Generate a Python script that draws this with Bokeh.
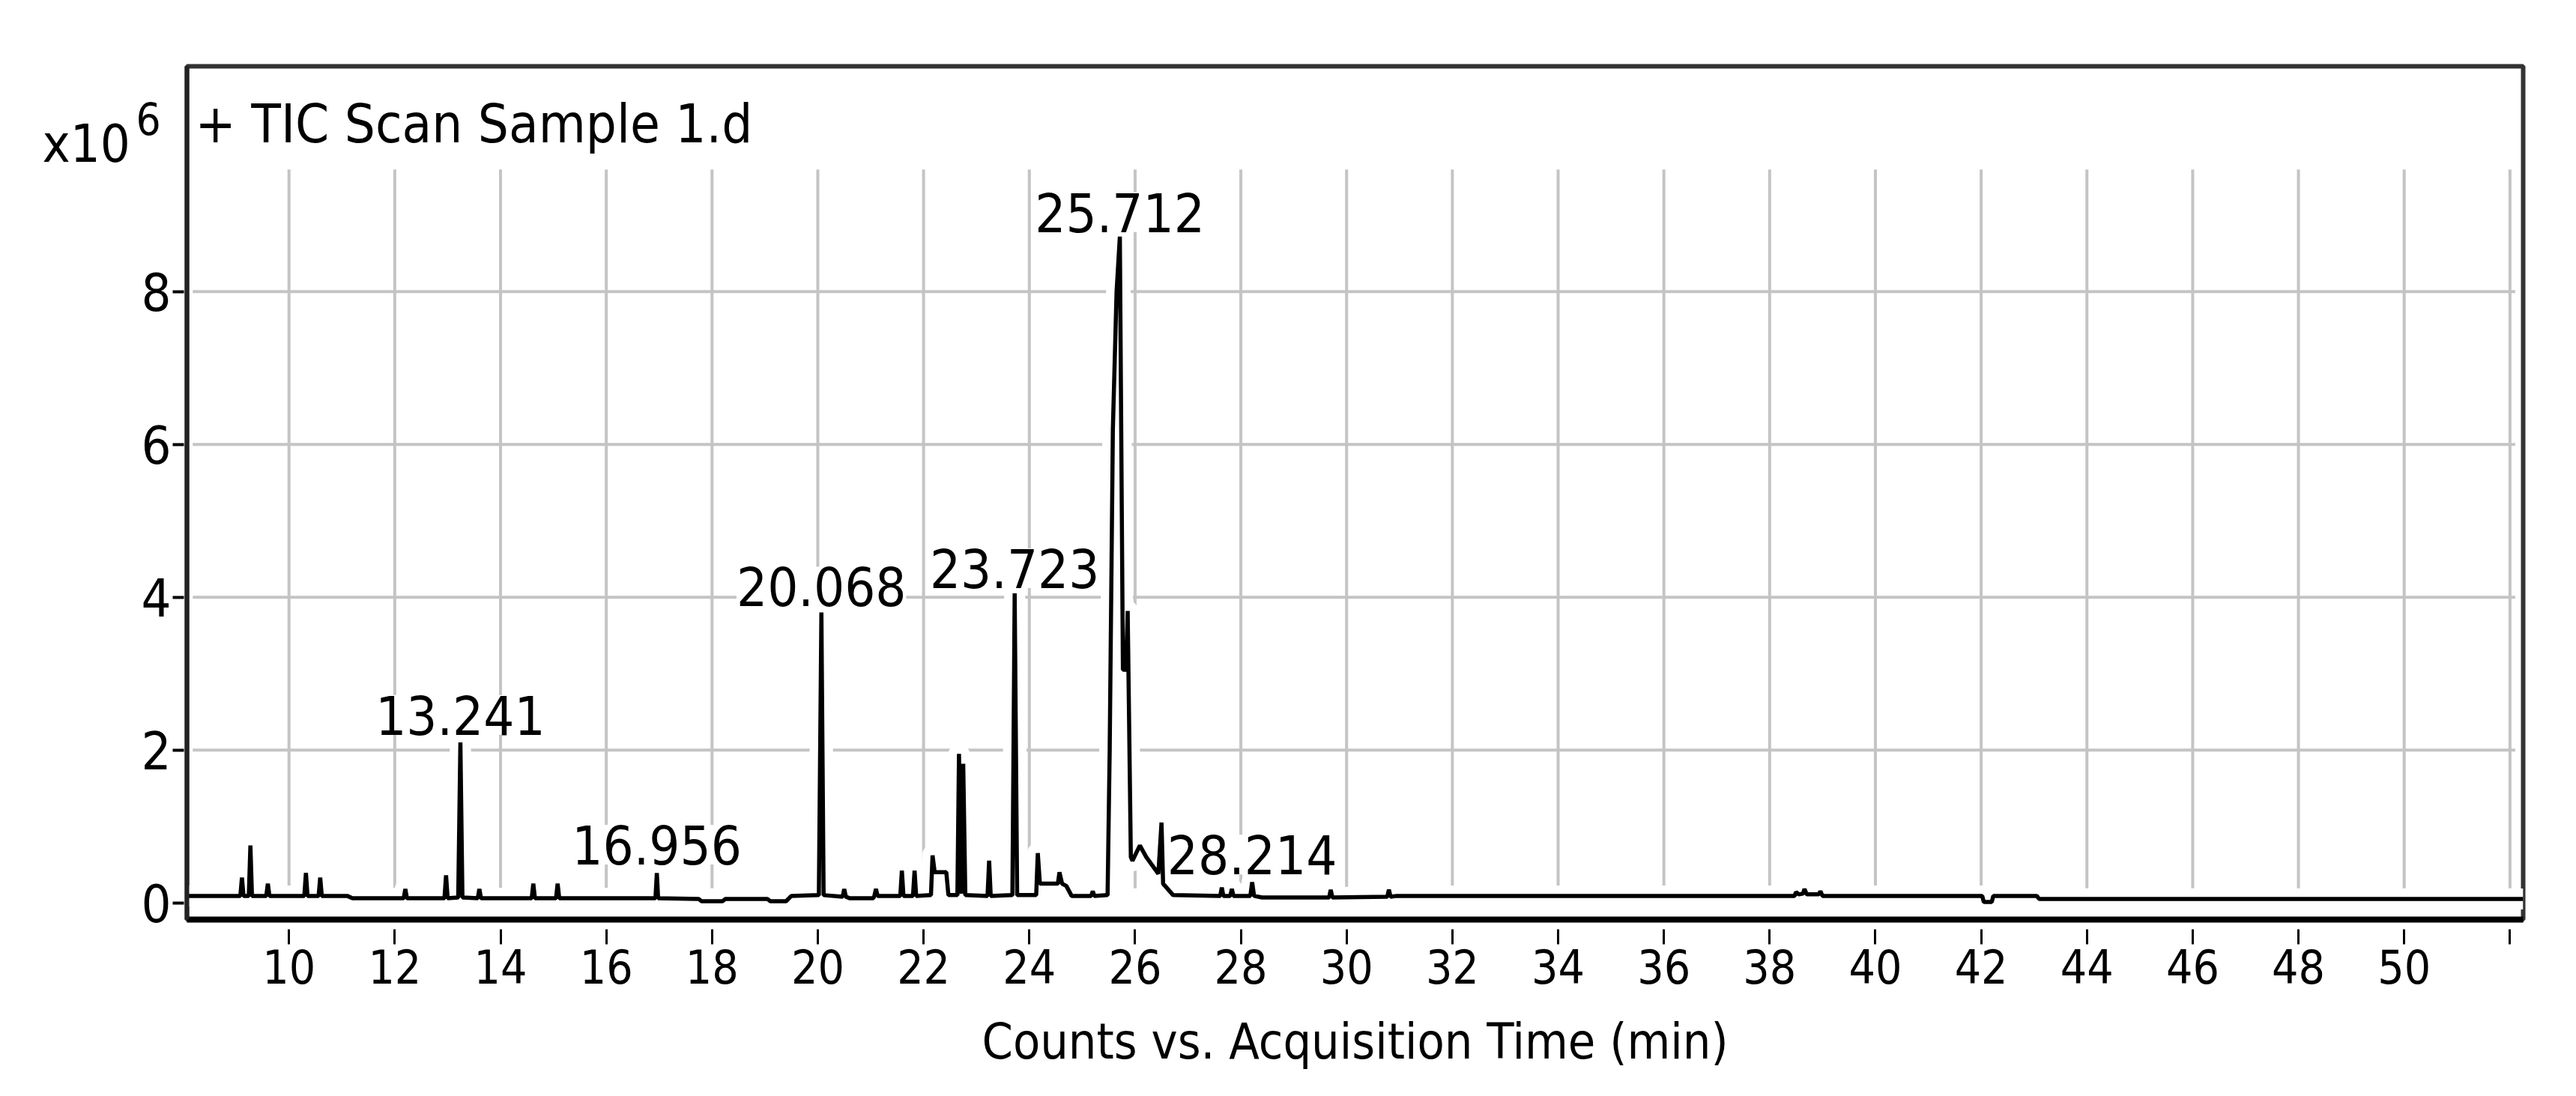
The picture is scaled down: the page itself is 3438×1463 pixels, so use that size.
from bokeh.plotting import figure
from bokeh.models import Range1d, FixedTicker, Label
from bokeh.core.properties import value
from bokeh.embed import file_html
from bokeh.resources import INLINE

FONT = "DejaVu Sans Condensed, Roboto"

# --- chromatogram trace (retention time in min, TIC counts in units of 1e6) ---
rt_min = [
    8.07,
    9.08, 9.11, 9.14,
    9.24, 9.27, 9.30,
    9.57, 9.60, 9.63,
    10.29, 10.32, 10.35,
    10.56, 10.59, 10.62,
    11.10, 11.20,
    12.17, 12.20, 12.23,
    12.94, 12.97, 13.00,
    13.20, 13.241, 13.28,
    13.57, 13.60, 13.63,
    14.59, 14.62, 14.65,
    15.05, 15.08, 15.11,
    16.93, 16.956, 16.98,
    17.75, 17.80, 18.20, 18.25,
    19.05, 19.10, 19.40, 19.50,
    20.02, 20.068, 20.11,
    20.47, 20.50, 20.53,
    20.60, 21.05,
    21.07, 21.10, 21.13,
    21.56, 21.59, 21.62,
    21.80, 21.83, 21.86,
    22.14, 22.17, 22.21, 22.43, 22.47,
    22.64, 22.67, 22.71, 22.75, 22.79,
    23.21, 23.24, 23.27,
    23.68, 23.723, 23.77,
    24.13, 24.16, 24.20, 24.40,
    24.54, 24.57, 24.62, 24.70, 24.80,
    25.17, 25.20, 25.23,
    25.48, 25.52, 25.58, 25.65, 25.712, 25.77, 25.83, 25.86, 25.92,
    25.95, 26.09, 26.21, 26.44, 26.50, 26.53, 26.72,
    27.61, 27.64, 27.67,
    27.80, 27.83, 27.86,
    28.18, 28.214, 28.25, 28.40,
    29.67, 29.70, 29.73,
    30.77, 30.80, 30.83, 30.95,
    38.30, 38.47, 38.50, 38.55, 38.63, 38.66, 38.70, 38.93, 38.96, 39.00,
    42.02, 42.05, 42.20, 42.23,
    43.05, 43.10, 52.25,
]
tic_1e6 = [
    0.09,
    0.09, 0.33, 0.09,
    0.09, 0.75, 0.09,
    0.09, 0.25, 0.09,
    0.09, 0.39, 0.09,
    0.09, 0.33, 0.09,
    0.09, 0.06,
    0.06, 0.18, 0.06,
    0.06, 0.36, 0.06,
    0.07, 2.10, 0.07,
    0.06, 0.18, 0.06,
    0.06, 0.25, 0.06,
    0.06, 0.25, 0.06,
    0.06, 0.39, 0.06,
    0.05, 0.02, 0.02, 0.05,
    0.05, 0.02, 0.02, 0.09,
    0.10, 3.80, 0.10,
    0.08, 0.18, 0.08,
    0.06, 0.06,
    0.09, 0.18, 0.09,
    0.09, 0.42, 0.09,
    0.09, 0.42, 0.09,
    0.10, 0.62, 0.40, 0.40, 0.10,
    0.10, 1.95, 0.12, 1.82, 0.10,
    0.09, 0.55, 0.09,
    0.10, 4.05, 0.10,
    0.10, 0.65, 0.25, 0.25,
    0.25, 0.40, 0.25, 0.22, 0.09,
    0.09, 0.15, 0.09,
    0.10, 2.00, 6.20, 8.00, 8.72, 3.05, 3.05, 3.82, 0.60,
    0.55, 0.75, 0.60, 0.38, 1.05, 0.25, 0.10,
    0.09, 0.20, 0.09,
    0.09, 0.18, 0.09,
    0.09, 0.27, 0.09, 0.07,
    0.07, 0.17, 0.07,
    0.08, 0.17, 0.08, 0.09,
    0.09, 0.09, 0.14, 0.11, 0.12, 0.18, 0.11, 0.11, 0.15, 0.09,
    0.09, 0.01, 0.01, 0.09,
    0.09, 0.05, 0.05,
]

# --- labelled peaks ---
peak_rt = [13.241, 16.956, 20.068, 23.723, 25.712, 28.214]
peak_text = ["13.241", "16.956", "20.068", "23.723", "25.712", "28.214"]
peak_label_y = [2.46, 0.76, 4.14, 4.38, 9.04, 0.63]

# --- axes ---
x_ticks = list(range(10, 53, 2))
y_ticks = [0, 2, 4, 6, 8]
grid_y = [2, 4, 6, 8]

p = figure(width=3420, height=1445,
           x_range=Range1d(8.07, 52.25), y_range=Range1d(-0.22, 10.95),
           output_backend="svg", toolbar_location=None,
           min_border_left=249, min_border_right=53,
           min_border_top=88, min_border_bottom=218)
p.xgrid.visible = False
p.ygrid.visible = False
p.background_fill_color = "white"
p.border_fill_color = "white"
p.outline_line_color = "#333333"
p.outline_line_width = 6

# grid lines (limited extent, as in the original)
p.segment(x0=x_ticks, x1=x_ticks, y0=[0.19] * len(x_ticks), y1=[9.6] * len(x_ticks),
          line_color="#c4c4c4", line_width=4)
p.segment(x0=[8.18] * len(grid_y), x1=[52.1] * len(grid_y), y0=grid_y, y1=grid_y,
          line_color="#c4c4c4", line_width=4)

# white halo then trace
p.line(rt_min, tic_1e6, line_color="white", line_width=28, line_join="round")
p.line(rt_min, tic_1e6, line_color="black", line_width=5.5)

p.text(x=peak_rt, y=peak_label_y, text=peak_text,
       text_font=value(FONT), text_font_size=value("72px"),
       text_align="center", text_baseline="alphabetic", text_color="black",
       background_fill_color="white")

xa = p.xaxis[0]
xa.ticker = FixedTicker(ticks=x_ticks)
xa.major_label_overrides = {52: ""}
xa.axis_line_color = "black"
xa.axis_line_width = 8
xa.major_tick_in = -13
xa.major_tick_out = 33
xa.major_tick_line_width = 3
xa.major_tick_line_color = "black"
xa.minor_tick_line_color = None
xa.major_label_text_font = FONT
xa.major_label_text_font_size = "62px"
xa.major_label_text_color = "black"
xa.major_label_standoff = 6
xa.axis_label = "Counts vs. Acquisition Time (min)"
xa.axis_label_text_font = FONT
xa.axis_label_text_font_size = "66px"
xa.axis_label_text_font_style = "normal"
xa.axis_label_text_color = "black"
xa.axis_label_standoff = 36

ya = p.yaxis[0]
ya.ticker = FixedTicker(ticks=y_ticks)
ya.axis_line_color = "#222222"
ya.axis_line_width = 6
ya.major_tick_in = -4
ya.major_tick_out = 19
ya.major_tick_line_width = 4
ya.major_tick_line_color = "black"
ya.minor_tick_line_color = None
ya.major_label_text_font = FONT
ya.major_label_text_font_size = "70px"
ya.major_label_text_color = "black"
ya.major_label_standoff = 2

p.add_layout(Label(x=11, y=1063, x_units="screen", y_units="screen",
                   text="+ TIC Scan Sample 1.d", text_font=FONT,
                   text_font_size="72px", text_baseline="alphabetic", text_color="black"))
p.add_layout(Label(x=-12, y=1036, x_units="screen", y_units="screen",
                   text="x10", text_font=FONT,
                   text_font_size="70px", text_baseline="alphabetic", text_color="black"), "left")
p.add_layout(Label(x=146, y=1069, x_units="screen", y_units="screen",
                   text="6", text_font=FONT,
                   text_font_size="58px", text_baseline="alphabetic", text_color="black"), "left")

open("out.html", "w").write(file_html(p, INLINE))
